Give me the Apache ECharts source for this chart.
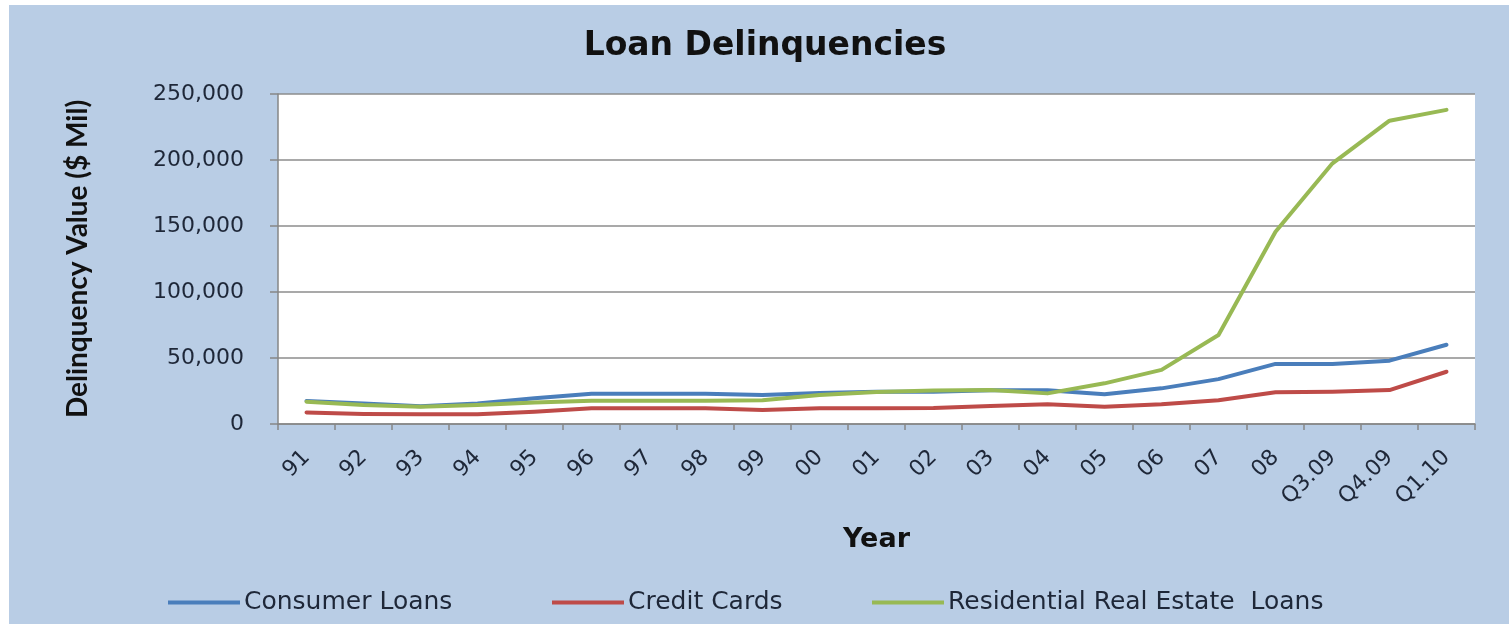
<!DOCTYPE html>
<html>
<head>
<meta charset="utf-8">
<title>Loan Delinquencies</title>
<script src="https://cdn.jsdelivr.net/npm/echarts@6/dist/echarts.min.js"></script>
<style>
  html, body { margin: 0; padding: 0; background: #ffffff; }
  #chart { position: absolute; left: 9px; top: 5px; width: 1500px; height: 619px; }
</style>
</head>
<body>
<div id="chart"></div>
<script>
// Year / quarter labels along the x axis
const categories = ['91', '92', '93', '94', '95', '96', '97', '98', '99', '00', '01', '02',
  '03', '04', '05', '06', '07', '08', 'Q3.09', 'Q4.09', 'Q1.10'];

// Delinquency values, $ millions
const consumerLoans = [17500, 15500, 13500, 15500, 19500, 23000, 23000, 23000, 22000, 23500, 24500,
  24500, 25500, 25500, 22500, 27000, 34000, 45500, 45500, 48000, 60000];
const creditCards = [8800, 7600, 7300, 7300, 9300, 11900, 11900, 11900, 10600, 11900, 12000,
  12200, 13600, 15000, 13000, 15000, 18000, 24000, 24500, 25700, 39600];
const residentialRealEstate = [16900, 14400, 13100, 14400, 16200, 17700, 17700, 17700, 18000, 22000, 24200,
  25300, 25700, 23200, 30800, 41000, 67400, 145700, 197500, 229800, 238000];

const seriesNames = ['Consumer Loans', 'Credit Cards', 'Residential Real Estate  Loans'];
const seriesColors = ['#4a7ebb', '#be4b48', '#98b954'];
const yTicks = [0, 50000, 100000, 150000, 200000, 250000];

const textColor = '#1e2738';
const chart = echarts.init(document.getElementById('chart'));

function fmt(v) {
  return v.toString().replace(/\B(?=(\d{3})+(?!\d))/g, ',');
}

const values = [consumerLoans, creditCards, residentialRealEstate];
const legendLeft = [154, 538, 858];

chart.setOption({
  backgroundColor: '#b9cde5',
  animation: false,
  title: {
    text: 'Loan Delinquencies',
    left: 751,
    top: 20,
    textAlign: 'center',
    textStyle: { fontFamily: 'DejaVu Sans', fontWeight: 'bold', fontSize: 33, color: '#111111' }
  },
  legend: seriesNames.map((name, i) => ({
    data: [name],
    left: legendLeft[i],
    top: 580,
    icon: 'rect',
    itemWidth: 72,
    itemHeight: 4,
    itemGap: 0,
    textStyle: { fontFamily: 'DejaVu Sans', fontSize: 25, color: textColor, padding: [0, 0, 0, -1] }
  })),
  grid: {
    left: 269,
    top: 89,
    right: 34,
    bottom: 200,
    show: true,
    backgroundColor: '#ffffff',
    borderWidth: 0
  },
  xAxis: {
    type: 'category',
    data: categories,
    boundaryGap: true,
    name: 'Year',
    nameLocation: 'middle',
    nameGap: 102,
    nameTextStyle: { fontFamily: 'DejaVu Sans', fontWeight: 'bold', fontSize: 27, color: '#111111' },
    axisLine: { show: true, lineStyle: { color: '#868686', width: 1.5 } },
    axisTick: { show: true, alignWithLabel: false, length: 6, lineStyle: { color: '#868686', width: 1.5 } },
    axisLabel: {
      rotate: 45,
      margin: 30,
      interval: 0,
      fontFamily: 'DejaVu Sans',
      fontSize: 22,
      color: textColor
    }
  },
  yAxis: {
    type: 'value',
    min: yTicks[0],
    max: yTicks[yTicks.length - 1],
    interval: yTicks[1] - yTicks[0],
    name: 'Delinquency Value ($ Mil)',
    nameLocation: 'middle',
    nameGap: 186,
    nameRotate: 90,
    nameTextStyle: { fontFamily: 'Lato', fontWeight: 'bold', fontSize: 28, color: '#111111' },
    axisLine: { show: true, lineStyle: { color: '#868686', width: 1.5 } },
    axisTick: { show: true, length: 8, lineStyle: { color: '#868686', width: 1.5 } },
    axisLabel: {
      margin: 34,
      fontFamily: 'DejaVu Sans',
      fontSize: 22,
      color: textColor,
      formatter: fmt
    },
    splitLine: { show: true, lineStyle: { color: '#8c8c8c', width: 1.5 } }
  },
  series: seriesNames.map((name, i) => ({
    name: name,
    type: 'line',
    data: values[i],
    symbol: 'none',
    color: seriesColors[i],
    lineStyle: { width: 4, color: seriesColors[i], join: 'round', cap: 'round' }
  }))
});
</script>
</body>
</html>
